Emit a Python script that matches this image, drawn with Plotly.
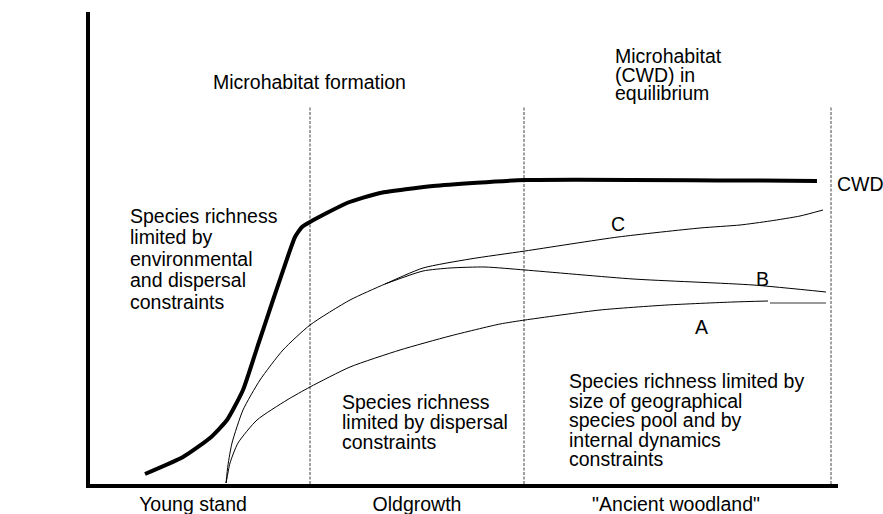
import plotly.graph_objects as go

# ---------------- data (conceptual units: stand age vs species richness) -------------
cwd_x = [55, 93, 120, 137, 153, 168, 183, 198, 205, 212, 220, 257, 290, 343, 435, 727]
cwd_y = [10, 27, 46, 64, 94, 139, 184, 228, 247, 257, 262, 281, 291, 298, 304, 303]

c_x = [136, 138, 142, 153, 170, 193, 220, 260, 295, 333, 380, 435, 528, 610, 650, 680, 710, 733]
c_y = [1, 19, 41, 74, 104, 134, 159, 184, 200, 216, 225, 233, 247, 256, 259, 263, 268, 274]

b_x = [295, 333, 360, 395, 435, 543, 663, 736]
b_y = [200, 213, 216, 217, 214, 205, 199, 192]

a_x = [136, 137, 140, 148, 167, 197, 220, 260, 310, 360, 410, 435, 510, 577, 643, 678]
a_y = [1, 6, 21, 41, 64, 84, 97, 117, 134, 148, 160, 164, 174, 179, 182, 183]
a_tail_x = [680, 736]
a_tail_y = [181, 181]

phase_bounds = [220, 434, 741]
phase_top = 377

stage_labels = ["Young stand", "Oldgrowth", "\"Ancient woodland\""]
stage_centres = [103, 327, 586]

FONT = "Arial, Liberation Sans, sans-serif"
FS = 19.5

fig = go.Figure()

# phase boundaries (dashed)
for xb in phase_bounds:
    fig.add_trace(go.Scatter(x=[xb, xb], y=[0, phase_top], mode="lines",
                             line=dict(color="#444444", width=1, dash="3px,1.5px"),
                             hoverinfo="skip", showlegend=False))

# curves
fig.add_trace(go.Scatter(x=a_x, y=a_y, mode="lines", line=dict(color="black", width=1, shape="spline", smoothing=0.6),
                         hoverinfo="skip", showlegend=False))
fig.add_trace(go.Scatter(x=a_tail_x, y=a_tail_y, mode="lines", line=dict(color="#777777", width=1.6),
                         hoverinfo="skip", showlegend=False))
fig.add_trace(go.Scatter(x=b_x, y=b_y, mode="lines", line=dict(color="black", width=1, shape="spline", smoothing=0.6),
                         hoverinfo="skip", showlegend=False))
fig.add_trace(go.Scatter(x=c_x, y=c_y, mode="lines", line=dict(color="black", width=1, shape="spline", smoothing=0.6),
                         hoverinfo="skip", showlegend=False))
fig.add_trace(go.Scatter(x=cwd_x, y=cwd_y, mode="lines", line=dict(color="black", width=4, shape="spline", smoothing=0.5),
                         hoverinfo="skip", showlegend=False))

# helper: convert to data coords (plot origin at page pixel 90, 484)
def ann_lines(lines, left_px, baselines_px, anchor="left"):
    for txt, bl in zip(lines, baselines_px):
        fig.add_annotation(x=left_px - 90, y=484 - (bl - 6.5), xref="x", yref="y",
                           text=txt, showarrow=False, xanchor=anchor, yanchor="middle",
                           borderpad=0, borderwidth=0,
                           font=dict(family=FONT, size=FS, color="black"))

ann_lines(["Species", "richness"], 9, [55, 75])
ann_lines(["Microhabitat formation"], 213, [88])
ann_lines(["Microhabitat", "(CWD) in", "equilibrium"], 615, [62, 81, 99.5])
ann_lines(["CWD"], 837, [190])
ann_lines(["Species richness", "limited by", "environmental", "and dispersal", "constraints"],
          130, [222, 243.5, 265, 286.5, 308])
ann_lines(["Species richness", "limited by dispersal", "constraints"], 342, [408, 428, 448])
ann_lines(["Species richness limited by", "size of geographical", "species pool and by",
           "internal dynamics", "constraints"], 569, [387, 407, 426, 446, 465])
ann_lines(["C"], 618, [230], anchor="center")
ann_lines(["B"], 762, [285], anchor="center")
ann_lines(["A"], 701, [333], anchor="center")

fig.update_layout(
    width=883, height=514,
    margin=dict(l=90, r=45, t=12, b=30, autoexpand=False),
    paper_bgcolor="white", plot_bgcolor="white",
    showlegend=False,
    xaxis=dict(range=[0, 748], showgrid=False, zeroline=False, showline=True,
               linecolor="black", linewidth=4, ticks="", ticklabelstandoff=0,
               tickvals=stage_centres, ticktext=stage_labels, automargin=False,
               tickfont=dict(family=FONT, size=FS, color="black"), fixedrange=True),
    yaxis=dict(range=[0, 472], showgrid=False, zeroline=False, showline=True, automargin=False,
               linecolor="black", linewidth=4, ticks="", showticklabels=False, fixedrange=True),
)

# remove the default page margin so the figure fills the 883x514 window exactly
fig.write_html("out.html", config={"displayModeBar": False},
               post_script="document.body.style.margin='0';document.body.style.overflow='hidden';")
